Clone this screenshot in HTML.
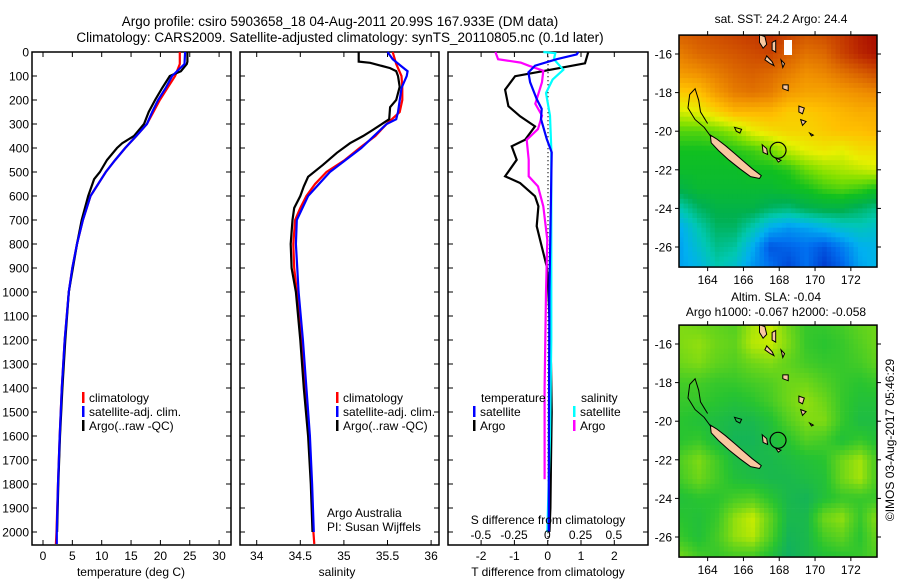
<!DOCTYPE html>
<html><head><meta charset="utf-8"><style>
body{margin:0;background:#fff}
svg{display:block;font-family:"Liberation Sans",sans-serif}
</style></head><body>
<svg id="fig" width="900" height="580" viewBox="0 0 900 580" xmlns="http://www.w3.org/2000/svg">
<rect width="900" height="580" fill="#fff"/>
<text x="340" y="26" font-size="13.5" text-anchor="middle">Argo profile: csiro 5903658_18 04-Aug-2011 20.99S 167.933E (DM data)</text>
<text x="340" y="42" font-size="13.5" text-anchor="middle">Climatology: CARS2009. Satellite-adjusted climatology: synTS_20110805.nc (0.1d later)</text>
<g id="plots"></g>
<text x="781" y="23" font-size="12" text-anchor="middle">sat. SST: 24.2 Argo: 24.4</text>
<text x="776" y="301" font-size="12" text-anchor="middle">Altim. SLA: -0.04</text>
<text x="776" y="316" font-size="12" text-anchor="middle">Argo h1000: -0.067 h2000: -0.058</text>
<text transform="translate(894,440) rotate(-90)" font-size="12" text-anchor="middle">©IMOS 03-Aug-2017 05:46:29</text>
</svg>
<script>
// ---- profile data ----
const depthArgoT=[0,40,50,80,100,150,200,250,300,350,380,400,450,500,530,600,700,800,900,1000,1200,1400,1600,1800,2000];
const argoT=[24.6,24.6,24.5,23.5,21.6,20.3,19.1,18.0,17.2,15.5,13.5,12.6,10.9,9.7,8.7,7.7,6.6,5.8,5.1,4.4,3.8,3.3,2.9,2.6,2.4];
const depthClimT=[0,50,100,150,200,250,300,350,400,450,500,600,700,800,900,1000,1200,1400,1600,1800,2000,2050];
const climT=[23.3,23.3,22.5,21.2,19.9,18.8,17.7,15.9,14.0,12.3,10.7,8.1,6.8,5.8,5.0,4.4,3.7,3.2,2.85,2.55,2.3,2.2];
const satT=[24.2,24.1,22.0,20.9,19.6,18.6,17.7,15.9,14.0,12.3,10.7,8.1,6.8,5.8,5.0,4.4,3.7,3.2,2.85,2.55,2.35,2.35];
const depthArgoS=[0,40,45,67,80,100,145,200,230,280,325,350,380,420,470,520,560,600,650,700,800,900,1000,1200,1400,1600,1800,2000];
const argoS=[35.17,35.17,35.30,35.53,35.60,35.62,35.64,35.60,35.53,35.52,35.33,35.22,35.07,34.92,34.76,34.59,34.54,34.50,34.43,34.41,34.39,34.40,34.45,34.50,34.54,34.59,34.62,34.64];
const depthClimS=[0,50,100,150,200,250,300,350,400,450,500,550,600,650,700,800,900,1000,1200,1400,1600,1800,2000,2050];
const climS=[35.56,35.6,35.66,35.67,35.67,35.64,35.49,35.36,35.18,35.01,34.80,34.67,34.57,34.50,34.44,34.42,34.43,34.46,34.52,34.56,34.60,34.63,34.65,34.66];
const depthSatS=[0,30,60,80,100,150,250,280,300,400,500,600,700,800,1000,1200,1400,1600,1800,2000];
const satS=[35.5,35.56,35.66,35.73,35.72,35.66,35.62,35.60,35.49,35.2,34.84,34.59,34.46,34.45,34.48,34.53,34.57,34.61,34.635,34.655];
const depthDTargo=[0,47,82,101,157,226,268,310,366,393,449,518,546,601,643,726,810,893,935,1100,1300,1500,1700,1900,2000];
const dTargo=[1.22,1.12,-0.23,-0.98,-1.28,-1.18,-0.83,-0.38,-0.68,-1.08,-0.93,-1.28,-0.83,-0.38,-0.28,-0.33,-0.18,-0.03,0,0.05,0.1,0.12,0.1,0.08,0.05];
const depthDTsat=[0,10,30,57,85,126,196,237,279,362,418,600,1000,1500,2000];
const dTsat=[0.92,0.87,0.27,-0.38,-0.58,-0.53,-0.33,-0.18,-0.2,-0.03,0.12,0.1,0.05,0.04,0.03];
const depthDSargo=[0,30,44,57,78,126,216,265,321,366,449,518,560,643,782,1000,1400,1780];
const dSargo=[-0.39,-0.37,-0.2,-0.14,-0.03,-0.04,-0.09,-0.04,-0.07,-0.155,-0.14,-0.14,-0.07,-0.03,0,-0.01,-0.02,-0.02];
const depthDSsat=[0,5,30,74,115,171,265,404,800,1200,1600,2000];
const dSsat=[-0.03,0.06,0.05,0.12,0.04,-0.01,0.02,0.03,0.03,0.03,0.02,0.0];
const depthTicks=[0,100,200,300,400,500,600,700,800,900,1000,1100,1200,1300,1400,1500,1600,1700,1800,1900,2000];
const tempTicks=[0,5,10,15,20,25,30];
const salTicks=[34,34.5,35,35.5,36];
const salTickLabels=["34","34.5","35","35.5","36"];
const dTTicks=[-2,-1,0,1,2];
const dSTicks=[-0.5,-0.25,0,0.25,0.5];
const dSTickLabels=["-0.5","-0.25","0","0.25","0.5"];
// ---- map data (rows lat -15..-27, cols lon 162.5..173.5) ----
const mapLons=[162.5,163.5,164.5,165.5,166.5,167.5,168.5,169.5,170.5,171.5,172.5,173.5];
const mapLats=[-15,-16,-17,-18,-19,-20,-21,-22,-23,-24,-25,-26,-27];
const sstGrid=[
[25.5,25.6,25.7,25.8,25.9,26.0,25.8,25.6,25.7,25.9,26.2,26.4],
[25.2,25.4,25.5,25.6,25.7,25.8,25.5,25.3,25.4,25.8,26.1,26.3],
[24.9,25.0,25.2,25.4,25.5,25.4,25.2,25.0,25.1,25.3,25.5,25.7],
[24.4,24.5,24.9,25.2,25.3,25.2,24.9,24.8,24.8,24.9,25.0,25.1],
[23.9,24.0,24.3,24.6,24.6,24.6,24.4,24.4,24.5,24.6,24.7,24.7],
[23.3,23.3,23.4,23.6,24.0,24.2,24.3,24.3,24.4,24.5,24.5,24.6],
[23.0,23.0,23.0,23.1,23.2,23.4,23.8,24.0,24.1,24.0,24.2,24.2],
[22.9,22.9,22.9,22.9,23.0,23.0,23.1,23.4,23.6,23.7,23.8,23.9],
[22.6,22.8,22.8,22.8,22.8,22.8,22.9,23.0,23.2,23.3,23.2,23.0],
[22.0,22.4,22.6,22.6,22.6,22.4,22.3,22.5,22.6,22.6,22.4,22.2],
[21.5,22.0,22.4,22.4,22.0,21.5,21.3,21.4,21.6,21.8,21.9,21.8],
[21.4,21.8,22.2,22.1,21.5,20.8,20.9,21.0,20.8,21.1,21.5,21.6],
[21.4,21.6,22.0,21.8,21.3,21.0,20.7,21.0,20.6,20.9,21.4,21.6]];
const slaGrid=[
[0.06,0.05,0.04,0.03,0.08,0.10,0.05,0.01,0.01,0.02,0.04,0.05],
[0.06,0.07,0.05,0.04,0.09,0.10,0.06,0.01,0.0,0.01,0.03,0.05],
[0.05,0.06,0.04,0.03,0.05,0.06,0.04,0.02,0.01,0.01,0.02,0.04],
[0.02,0.02,0.01,0.01,0.02,0.03,0.05,0.05,0.03,0.01,0.0,0.01],
[0.01,0.01,0.0,-0.01,0.0,0.02,0.05,0.07,0.05,0.01,-0.01,-0.01],
[0.0,-0.01,-0.02,-0.03,-0.03,-0.01,0.03,0.06,0.06,0.01,-0.02,-0.02],
[0.0,0.01,-0.02,-0.04,-0.04,-0.02,0.0,0.03,0.02,-0.01,0.01,-0.01],
[0.03,0.06,0.02,-0.02,-0.03,-0.03,-0.02,-0.01,0.0,0.05,0.08,0.02],
[0.02,0.05,0.02,-0.01,-0.02,-0.03,-0.03,-0.02,-0.01,0.05,0.08,0.02],
[-0.01,0.0,0.0,0.02,0.03,0.0,-0.03,-0.04,-0.01,0.01,0.01,0.01],
[0.0,-0.01,0.01,0.07,0.10,0.04,-0.03,-0.03,0.05,0.07,0.01,0.07],
[0.01,-0.01,0.02,0.07,0.09,0.03,-0.04,-0.03,0.02,0.04,0.0,0.05],
[0.05,0.02,0.01,0.02,0.02,-0.01,-0.05,-0.03,-0.01,0.0,0.01,0.03]];
const lonTicks=[164,166,168,170,172];
const latTicks=[-16,-18,-20,-22,-24,-26];

const NS="http://www.w3.org/2000/svg";
const root=document.getElementById('plots');
function mk(tag,attrs,parent){const e=document.createElementNS(NS,tag);for(const k in attrs)e.setAttribute(k,attrs[k]);(parent||root).appendChild(e);return e;}
function txt(x,y,s,size,anchor,parent){const t=mk('text',{x:x,y:y,'font-size':size,'text-anchor':anchor||'middle'},parent);t.textContent=s;return t;}

const yD=d=>52+d*0.24;
const BOT=545;
const xT=t=>43+t*5.87;
const xS=s=>256.7+(s-34)*87.2;
const xdT=v=>547.7+33.3*v;
const xdS=v=>547.3+133*v;

function line(depths,vals,xf,color,name){
  const pts=depths.map((d,i)=>xf(vals[i]).toFixed(1)+','+yD(d).toFixed(1)).join(' ');
  const p=mk('polyline',{points:pts,fill:'none',stroke:color,'stroke-width':2.2});
  
  
}
function frame(x0,x1,name){
  const r=mk('rect',{x:x0,y:52,width:x1-x0,height:BOT-52,fill:'none',stroke:'#000','stroke-width':1.5});
  
  
  depthTicks.forEach(d=>{
    mk('line',{x1:x0,x2:x0+5,y1:yD(d),y2:yD(d),stroke:'#000'});
    mk('line',{x1:x1-5,x2:x1,y1:yD(d),y2:yD(d),stroke:'#000'});
  });
}
depthTicks.forEach(d=>{const t=txt(29,yD(d)+4.5,String(d),12,'end');
  
  });

frame(32,231,'temperature-panel');
tempTicks.forEach(v=>{mk('line',{x1:xT(v),x2:xT(v),y1:52,y2:57,stroke:'#000'});mk('line',{x1:xT(v),x2:xT(v),y1:BOT-5,y2:BOT,stroke:'#000'});
  const t=txt(xT(v),560,String(v),12);
  
  });
txt(131,576,'temperature (deg C)',12);
line(depthClimT,climT,xT,'#f00','climatology-temperature-line');
line(depthArgoT,argoT,xT,'#000','argo-temperature-line');
line(depthClimT,satT,xT,'#00f','satellite-temperature-line');

frame(240,439,'salinity-panel');
salTicks.forEach((v,i)=>{mk('line',{x1:xS(v),x2:xS(v),y1:52,y2:57,stroke:'#000'});mk('line',{x1:xS(v),x2:xS(v),y1:BOT-5,y2:BOT,stroke:'#000'});
  const t=txt(xS(v),560,salTickLabels[i],12);
  
  });
txt(337,576,'salinity',12);
line(depthClimS,climS,xS,'#f00','climatology-salinity-line');
line(depthArgoS,argoS,xS,'#000','argo-salinity-line');
line(depthSatS,satS,xS,'#00f','satellite-salinity-line');

function legend(x,y,items,name){
  const g=mk('g',{});
  
  
  items.forEach((it,i)=>{mk('rect',{x:x,y:y+i*14-10,width:2.5,height:11,fill:it[1]},g);txt(x+7,y+i*14,it[0],12,'start',g);});
}
legend(82,402,[['climatology','#f00'],['satellite-adj. clim.','#00f'],['Argo(..raw -QC)','#000']],'temperature-legend');
legend(336,402,[['climatology','#f00'],['satellite-adj. clim.','#00f'],['Argo(..raw -QC)','#000']],'salinity-legend');
txt(327,517,'Argo Australia',12,'start');
txt(327,531,'PI: Susan Wijffels',12,'start');

frame(448,648,'difference-panel');
for(let y=52;y<BOT;y+=4) mk('rect',{x:547.5,y:y,width:1,height:1.3,fill:'#000'});
dTTicks.forEach(v=>{mk('line',{x1:xdT(v),x2:xdT(v),y1:52,y2:57,stroke:'#000'});mk('line',{x1:xdT(v),x2:xdT(v),y1:BOT-5,y2:BOT,stroke:'#000'});
  const t=txt(xdT(v),560,String(v),12);
  
  });
line(depthDTargo,dTargo,xdT,'#000','argo-t-diff-line');
line(depthDSargo,dSargo,xdS,'#f0f','argo-s-diff-line');
line(depthDSsat,dSsat,xdS,'#0ff','satellite-s-diff-line');
line(depthDTsat,dTsat,xdT,'#00f','satellite-t-diff-line');
dSTicks.forEach((v,i)=>{const t=txt(xdS(v),539,dSTickLabels[i],12);
  
  });
txt(548,524,'S difference from climatology',12);
txt(548,576,'T difference from climatology',12);
txt(481,402,'temperature',12,'start');
txt(581,402,'salinity',12,'start');
legend(473,416,[['satellite','#00f'],['Argo','#000']],'t-diff-legend');
legend(573,416,[['satellite','#0ff'],['Argo','#f0f']],'s-diff-legend');

function interp(stops,v){
  if(v<=stops[0][0])return 'rgb('+stops[0][1].join(',')+')';
  for(let i=1;i<stops.length;i++){if(v<=stops[i][0]){const a=stops[i-1],b=stops[i],f=(v-a[0])/(b[0]-a[0]);
    return 'rgb('+a[1].map((c,k)=>Math.round(c+(b[1][k]-c)*f)).join(',')+')';}}
  return 'rgb('+stops[stops.length-1][1].join(',')+')';
}
const sstStops=[[20.5,[0,48,200]],[21.0,[0,112,240]],[21.5,[0,176,240]],[22.0,[0,200,176]],[22.5,[0,176,80]],[23.0,[16,192,32]],[23.5,[128,224,0]],[24.0,[232,240,0]],[24.5,[255,192,0]],[25.0,[240,144,0]],[25.5,[216,96,0]],[26.0,[192,48,0]],[26.5,[160,0,0]]];
const slaStops=[[-0.1,[0,160,128]],[-0.05,[16,176,96]],[0,[40,196,48]],[0.05,[110,214,24]],[0.1,[200,236,0]],[0.15,[236,220,0]]];
function gridVal(grid,lon,lat){
  let fx=(lon-162.5),fy=(-15-lat);
  fx=Math.max(0,Math.min(10.999,fx));fy=Math.max(0,Math.min(11.999,fy));
  const i=Math.floor(fy),j=Math.floor(fx),u=fx-j,w=fy-i;
  return grid[i][j]*(1-u)*(1-w)+grid[i][j+1]*u*(1-w)+grid[i+1][j]*(1-u)*w+grid[i+1][j+1]*u*w;
}
function drawMap(y16,grid,stops,name,lonLabelY,whiteBox){
  const X=lon=>679+(lon-162.4)*17.9, Y=lat=>y16+(-16-lat)*19.3;
  const top=Y(-15.02),bot=Y(-27.04);
  const g=mk('g',{});
  
  
  const cs=0.25;
  for(let lat=-15;lat>-27.1;lat-=cs){
    for(let lon=162.4;lon<173.5;lon+=cs){
      const x0=Math.max(679,X(lon)),x1=Math.min(877,X(lon+cs));
      const ya=Math.max(top,Y(lat)),yb=Math.min(bot,Y(lat-cs));
      if(x1<=x0||yb<=ya)continue;
      mk('rect',{x:x0.toFixed(1),y:ya.toFixed(1),width:(x1-x0+0.4).toFixed(1),height:(yb-ya+0.4).toFixed(1),fill:interp(stops,gridVal(grid,lon+cs/2,lat-cs/2))},g);
    }
  }
  if(whiteBox) mk('rect',{x:784,y:40,width:8,height:15,fill:'#fff'},g);
  const isl=[[[164.15,-20.2],[164.5,-20.4],[165.0,-20.75],[165.5,-21.15],[166.0,-21.55],[166.5,-21.95],[167.0,-22.3],[166.9,-22.45],[166.4,-22.35],[165.8,-21.95],[165.2,-21.5],[164.6,-21.0],[164.2,-20.6]],
    [[167.05,-20.7],[167.3,-20.9],[167.35,-21.2],[167.1,-21.1]],
    [[167.8,-21.4],[168.1,-21.5],[167.95,-21.6]],
    [[166.9,-15.0],[167.2,-15.1],[167.3,-15.5],[167.1,-15.7],[166.9,-15.4]],
    [[167.6,-15.4],[167.8,-15.3],[167.8,-15.9],[167.6,-15.8]],
    [[167.3,-16.1],[167.6,-16.4],[167.7,-16.6],[167.5,-16.5],[167.2,-16.3]],
    [[168.1,-16.3],[168.3,-16.5],[168.2,-16.7]],
    [[168.2,-17.6],[168.5,-17.6],[168.5,-17.9],[168.2,-17.8]],
    [[169.1,-18.7],[169.4,-18.8],[169.3,-19.1],[169.1,-19.0]],
    [[169.2,-19.4],[169.5,-19.5],[169.3,-19.7]],
    [[169.7,-20.1],[169.9,-20.2],[169.8,-20.25]]];
  isl.forEach(p=>mk('polygon',{points:p.map(q=>X(q[0]).toFixed(1)+','+Y(q[1]).toFixed(1)).join(' '),fill:'#f8c8a0',stroke:'#000','stroke-width':1},g));
  const reef=[[164.2,-20.3],[163.8,-19.8],[163.3,-19.4],[162.9,-18.8],[163.0,-18.1],[163.3,-17.8],[163.5,-18.4],[163.6,-19.0],[164.0,-19.6]];
  mk('polyline',{points:reef.map(q=>X(q[0]).toFixed(1)+','+Y(q[1]).toFixed(1)).join(' '),fill:'none',stroke:'#000','stroke-width':1},g);
  mk('polygon',{points:[[165.5,-19.8],[165.9,-19.9],[165.8,-20.1],[165.6,-20.0]].map(q=>X(q[0]).toFixed(1)+','+Y(q[1]).toFixed(1)).join(' '),fill:'none',stroke:'#000'},g);
  const c=mk('circle',{cx:X(167.933),cy:Y(-20.99),r:8,fill:'none',stroke:'#000','stroke-width':1.2},g);
  
  
  mk('rect',{x:679,y:top,width:198,height:bot-top,fill:'none',stroke:'#000','stroke-width':1.5},g);
  lonTicks.forEach(l=>{mk('line',{x1:X(l),x2:X(l),y1:top-4,y2:top,stroke:'#000'},g);mk('line',{x1:X(l),x2:X(l),y1:bot,y2:bot+4,stroke:'#000'},g);
    const t=txt(X(l),lonLabelY,String(l),12,'middle',g);
    
    });
  latTicks.forEach(l=>{mk('line',{x1:675,x2:679,y1:Y(l),y2:Y(l),stroke:'#000'},g);mk('line',{x1:877,x2:881,y1:Y(l),y2:Y(l),stroke:'#000'},g);
    const t=txt(672,Y(l)+4.5,String(l),12,'end',g);
    
    });
}
drawMap(54,sstGrid,sstStops,'sst-map',284,true);
drawMap(344,slaGrid,slaStops,'sla-map',574,false);
</script>
</body></html>
